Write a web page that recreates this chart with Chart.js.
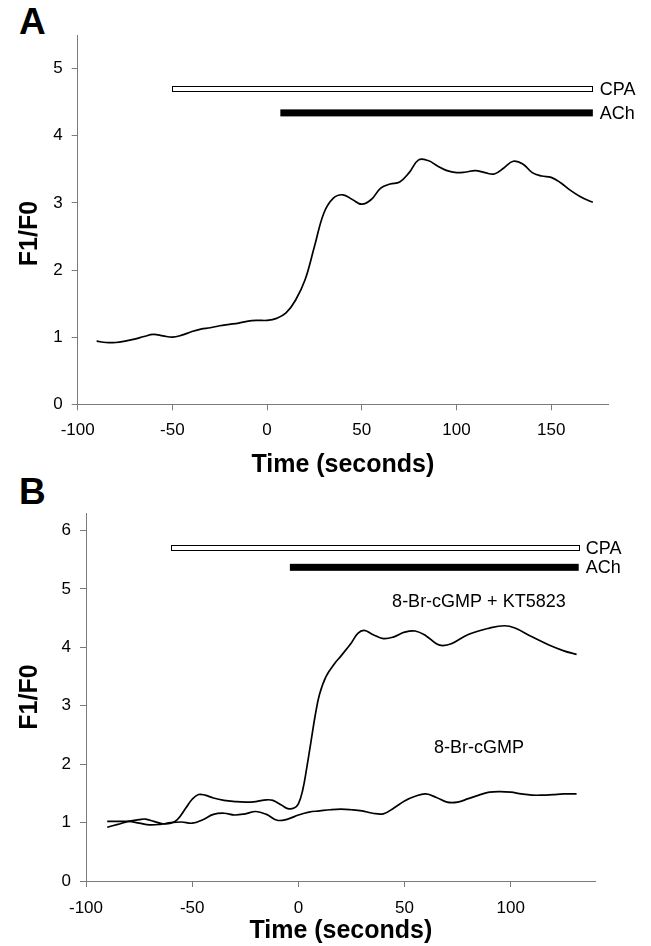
<!DOCTYPE html>
<html>
<head>
<meta charset="utf-8">
<script src="https://cdn.jsdelivr.net/npm/chart.js@4.4.1/dist/chart.umd.min.js"></script>
<style>
  html, body { margin:0; padding:0; background:#fff; }
  body { width:651px; height:946px; position:relative; overflow:hidden; font-family:"Liberation Sans", Arial, sans-serif; }
  .panel { position:absolute; left:0; }
  .letter { position:absolute; font-weight:bold; font-size:37px; line-height:37px; color:#000; }
</style>
</head>
<body>
<div class="letter" style="left:19px;top:3px;">A</div>
<div class="letter" style="left:19px;top:473px;">B</div>
<canvas id="chartA" class="panel" style="top:0px" width="651" height="485"></canvas>
<canvas id="chartB" class="panel" style="top:485px" width="651" height="461"></canvas>
<script>
// ---------- Panel A data ----------
const timeA = [-90,-85,-80,-75,-70,-65,-60,-55,-50,-45,-40,-35,-30,-25,-20,-15,-10,-5,0,5,10,15,20,25,30,35,40,45,50,55,60,65,70,75,80,85,90,95,100,105,110,115,120,125,130,135,140,145,150,155,160,165,170,172];
const ratioA = [0.94,0.92,0.92,0.94,0.97,1.01,1.04,1.02,1.00,1.03,1.08,1.12,1.14,1.17,1.19,1.21,1.24,1.25,1.25,1.28,1.36,1.55,1.85,2.35,2.85,3.07,3.12,3.05,2.98,3.05,3.22,3.28,3.31,3.45,3.64,3.63,3.55,3.48,3.45,3.46,3.48,3.45,3.43,3.52,3.62,3.58,3.45,3.40,3.38,3.30,3.19,3.10,3.03,3.01];
const xTicksA = [-100,-50,0,50,100,150];
const yTicksA = [0,1,2,3,4,5];
const treatNames = ['CPA','ACh'];
const treatStartA = [-50, 7];
const treatEndA = [172, 172];
const treatLevelA = [4.70, 4.34];

// ---------- Panel B data ----------
const timeB_KT = [-90,-85,-80,-75,-72,-68,-64,-60,-57,-53,-50,-47,-44,-40,-35,-30,-25,-20,-15,-12,-8,-5,-2,0,2,4,6,8,10,13,17,20,25,28,31,35,40,45,50,55,60,65,68,72,80,90,97,102,110,118,125,131];
const ratioB_KT = [0.92,0.97,1.02,1.05,1.06,1.02,0.98,0.99,1.05,1.25,1.40,1.48,1.47,1.42,1.38,1.36,1.35,1.36,1.39,1.38,1.30,1.24,1.25,1.32,1.55,1.95,2.40,2.85,3.20,3.50,3.72,3.85,4.08,4.24,4.29,4.22,4.15,4.18,4.26,4.28,4.20,4.06,4.03,4.06,4.22,4.33,4.37,4.33,4.18,4.04,3.94,3.88];
const timeB_cGMP = [-90,-85,-80,-75,-70,-65,-60,-55,-50,-45,-40,-35,-30,-25,-20,-15,-10,-5,0,5,10,15,20,25,30,35,40,45,50,55,60,65,70,75,80,85,90,95,100,105,110,115,120,125,131];
const ratioB_cGMP = [1.02,1.02,1.02,0.99,0.96,0.97,1.00,1.01,0.99,1.05,1.14,1.16,1.13,1.15,1.19,1.14,1.04,1.06,1.13,1.18,1.20,1.22,1.23,1.22,1.20,1.16,1.15,1.25,1.37,1.45,1.49,1.43,1.35,1.35,1.41,1.47,1.52,1.53,1.52,1.49,1.47,1.47,1.48,1.49,1.49];
const xTicksB = [-100,-50,0,50,100];
const yTicksB = [0,1,2,3,4,5,6];
const treatStartB = [-60, -4];
const treatEndB = [132, 132];
const treatLevelB = [5.70, 5.37];
const seriesNamesB = ['8-Br-cGMP + KT5823', '8-Br-cGMP'];
const seriesLabelXB = [85, 85];
const seriesLabelYB = [4.77, 2.28];

// ---------- helpers ----------
const FONT = '"Liberation Sans", Arial, sans-serif';
const AXIS_COLOR = '#7a7a7a';

function pts(xs, ys) { return xs.map((x, i) => ({x: x, y: ys[i]})); }

function treatmentPlugin(starts, ends, levels, notes) {
  return {
    id: 'treatments',
    afterDatasetsDraw(chart) {
      const ctx = chart.ctx, xs = chart.scales.x, ys = chart.scales.y;
      ctx.save();
      ctx.font = '18px ' + FONT;
      ctx.textBaseline = 'middle';
      treatNames.forEach((name, i) => {
        const x0 = xs.getPixelForValue(starts[i]);
        const x1 = xs.getPixelForValue(ends[i]);
        const yc = ys.getPixelForValue(levels[i]);
        if (i === 0) {
          ctx.fillStyle = '#fff';
          ctx.fillRect(x0, yc - 2.5, x1 - x0, 5);
          ctx.strokeStyle = '#000';
          ctx.lineWidth = 1;
          ctx.strokeRect(Math.round(x0) + 0.5, Math.round(yc - 3) + 0.5, Math.round(x1 - x0), 5);
        } else {
          ctx.fillStyle = '#000';
          ctx.fillRect(x0, yc - 3.5, x1 - x0, 7);
        }
        ctx.fillStyle = '#000';
        ctx.textAlign = 'left';
        ctx.fillText(name, x1 + 7, yc + 1);
      });
      if (notes) {
        ctx.textAlign = 'center';
        notes.names.forEach((t, i) => {
          ctx.fillText(t, xs.getPixelForValue(notes.xs[i]), ys.getPixelForValue(notes.ys[i]));
        });
      }
      ctx.restore();
    }
  };
}

function axisOpts(min, max, tickVals, title, isX, fixedSize, titlePad, tickPad) {
  return {
    type: 'linear',
    min: min, max: max,
    afterBuildTicks: (s) => { s.ticks = tickVals.map(v => ({value: v})); },
    afterFit: (s) => { if (isX) s.height = fixedSize; else s.width = fixedSize; },
    grid: { display: true, drawOnChartArea: false, drawTicks: true, tickLength: 6, color: AXIS_COLOR, lineWidth: 1 },
    border: { display: true, color: AXIS_COLOR, width: 1 },
    ticks: { color: '#000', font: { family: FONT, size: 17 }, padding: tickPad, maxRotation: 0, autoSkip: false, callback: (v) => String(v) },
    title: { display: true, text: title, color: '#000', font: { family: FONT, size: 25, weight: 'bold' }, padding: titlePad }
  };
}

function makeChart(id, datasets, xr, yr, layout, plugin) {
  return new Chart(document.getElementById(id), {
    type: 'line',
    data: { datasets: datasets },
    options: {
      responsive: false, animation: false, devicePixelRatio: 1,
      layout: { padding: layout.padding },
      plugins: { legend: { display: false }, tooltip: { enabled: false } },
      elements: { point: { radius: 0 }, line: { tension: 0.4, borderWidth: 1.7, borderColor: '#000' } },
      scales: {
        x: axisOpts(xr[0], xr[1], xr[2], 'Time (seconds)', true, layout.xh, {top: 0, bottom: layout.xtb}, layout.xtp),
        y: axisOpts(yr[0], yr[1], yr[2], layout.ytitle, false, layout.yw, {top: 15, bottom: 0}, 9)
      }
    },
    plugins: [plugin]
  });
}

makeChart('chartA',
  [{ data: pts(timeA, ratioA), borderColor: '#000', fill: false }],
  [-100, 180, xTicksA], [0, 5.5, yTicksA],
  { padding: {left: 0, top: 35, right: 43, bottom: 0}, xh: 80.7, yw: 77.7, xtb: 5, xtp: 10, ytitle: 'F1/F0    ' },
  treatmentPlugin(treatStartA, treatEndA, treatLevelA, null));

makeChart('chartB',
  [{ data: pts(timeB_KT, ratioB_KT), borderColor: '#000', fill: false },
   { data: pts(timeB_cGMP, ratioB_cGMP), borderColor: '#000', fill: false }],
  [-100, 140, xTicksB], [0, 6.3, yTicksB],
  { padding: {left: 0, top: 28, right: 55.3, bottom: 0}, xh: 65, yw: 86, xtb: 0, xtp: 11, ytitle: 'F1/F0' },
  treatmentPlugin(treatStartB, treatEndB, treatLevelB, { names: seriesNamesB, xs: seriesLabelXB, ys: seriesLabelYB }));
</script>
</body>
</html>
